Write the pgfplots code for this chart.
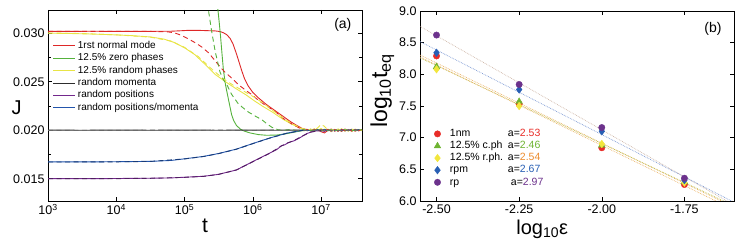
\documentclass[border=0pt]{standalone}
\usepackage{fontspec}
\setmainfont{Liberation Sans}
\usepackage{pgfplots}
\pgfplotsset{compat=1.18}
\definecolor{cred}{RGB}{222,40,40}
\definecolor{cgreen}{RGB}{85,178,60}
\definecolor{cyellow}{RGB}{232,228,70}
\definecolor{cblack}{RGB}{45,45,45}
\definecolor{cpurple}{RGB}{115,40,140}
\definecolor{cblue}{RGB}{35,85,172}
\definecolor{mred}{RGB}{232,45,40}
\definecolor{mgreen}{RGB}{110,180,50}
\definecolor{myellow}{RGB}{242,230,60}
\definecolor{mblue}{RGB}{40,95,180}
\definecolor{mpurple}{RGB}{108,50,140}
\definecolor{morange}{RGB}{236,140,45}
\definecolor{lpurple}{RGB}{205,180,165}
\definecolor{lblue}{RGB}{120,150,210}
\definecolor{lorange}{RGB}{235,175,95}
\pgfplotsset{
  common/.style={
    scale only axis,
    anchor=south west,
    tick align=inside,
    major tick length=4pt,
    minor tick length=3pt,
    every tick/.style={black, line width=0.5pt},
    axis line style={line width=0.7pt},
    tick label style={font=\fontsize{12.5}{14}\selectfont},
    /pgf/number format/assume math mode=true,
  }
}
\begin{document}
\begin{tikzpicture}[x=1pt,y=1pt]
\useasboundingbox (0,0) rectangle (750,241);
% ---------------- panel (a)
\begin{axis}[common,
  at={(48pt,40pt)}, width=314pt, height=191pt,
  xmin=3, xmax=7.6, ymin=0.0127, ymax=0.0324,
  xtick={3,4,5,6,7},
  xticklabels={10\textsuperscript{3},10\textsuperscript{4},10\textsuperscript{5},10\textsuperscript{6},10\textsuperscript{7}},
  ytick={0.015,0.020,0.025,0.030},
  yticklabels={0.015,0.020,0.025,0.030},
  minor ytick={0.0175,0.0225,0.0275},
  scaled y ticks=false,
  xlabel={t}, ylabel={J},
  xlabel style={at={(axis description cs:0.5,-0.13)}, anchor=center, font=\fontsize{21}{21}\selectfont},
  ylabel style={at={(axis description cs:-0.10,0.49)}, anchor=center, rotate=-90, font=\fontsize{20}{20}\selectfont},
  legend cell align=left,
  legend style={at={(axis description cs:0.016,0.845)}, anchor=north west, draw=none, fill=none,
    inner sep=0pt, outer sep=0pt, row sep=0pt,
    font=\fontsize{10}{12}\selectfont,
    nodes={text height=7pt, text depth=2pt, inner ysep=1.7pt, inner xsep=2pt}},
  legend image code/.code={\draw[#1] (0pt,0pt) -- (22pt,0pt);},
  every axis plot/.append style={line width=0.9pt},
]
% solid lines
\addplot[cred] coordinates {(3.0,0.03020)(3.3,0.03019)(3.6,0.03021)(3.9,0.03020)(4.2,0.03019)(4.5,0.03020)(4.8,0.03021)(4.95,0.03026)(5.05,0.03030)(5.25,0.03029)(5.45,0.03024)(5.52,0.03018)(5.57,0.03005)(5.62,0.02985)(5.67,0.02945)(5.71,0.02890)(5.76,0.02790)(5.80,0.02700)(5.84,0.02610)(5.88,0.02530)(5.93,0.02460)(6.0,0.02390)(6.08,0.02335)(6.2,0.02265)(6.3,0.02215)(6.45,0.02140)(6.55,0.02090)(6.63,0.02055)(6.72,0.02020)
(6.8,0.01995)(6.85,0.02010)(6.9,0.01988)(6.95,0.02008)(7.0,0.01985)(7.05,0.01972)(7.1,0.01998)(7.15,0.02012)(7.2,0.01990)(7.25,0.02008)(7.3,0.01988)(7.35,0.02012)(7.4,0.01995)(7.45,0.02010)(7.5,0.01990)(7.55,0.02006)(7.6,0.01996)};
\addlegendentry{1rst normal mode}
\addplot[cgreen] coordinates {(5.47,0.0340)(5.49,0.0324)(5.51,0.0310)(5.53,0.0295)(5.55,0.0278)(5.57,0.0262)(5.60,0.0247)(5.64,0.0233)(5.69,0.0216)(5.72,0.0210)(5.76,0.0205)(5.82,0.0201)(5.88,0.01990)(5.96,0.01972)(6.08,0.01955)(6.2,0.01948)(6.35,0.01950)(6.5,0.01965)(6.62,0.01982)(6.72,0.01995)
(6.8,0.01998)(6.85,0.02008)(6.9,0.01995)(6.95,0.02005)(7.0,0.01992)(7.05,0.02010)(7.1,0.01994)(7.15,0.02004)(7.2,0.01996)(7.25,0.02010)(7.3,0.01993)(7.35,0.02005)(7.4,0.01997)(7.45,0.02008)(7.5,0.01995)(7.55,0.02006)(7.6,0.01998)};
\addlegendentry{12.5\% zero phases}
\addplot[cyellow] coordinates {(3.0,0.03001)(3.3,0.02998)(3.6,0.02993)(3.9,0.02986)(4.2,0.02977)(4.5,0.02962)(4.7,0.02940)(4.85,0.02905)(5.0,0.02850)(5.15,0.02780)(5.3,0.02680)(5.45,0.02575)(5.6,0.02500)(5.74,0.02435)(5.9,0.02365)(6.03,0.02300)(6.15,0.02245)(6.28,0.02190)(6.45,0.02110)(6.55,0.02070)(6.64,0.02040)(6.72,0.02015)
(6.8,0.02005)(6.85,0.01992)(6.9,0.02015)(6.95,0.01995)(7.0,0.02018)(7.05,0.01990)(7.1,0.02008)(7.15,0.01985)(7.2,0.02010)(7.25,0.01992)(7.3,0.02015)(7.35,0.01990)(7.4,0.02008)(7.45,0.01988)(7.5,0.02012)(7.55,0.01994)(7.6,0.02008)};
\addlegendentry{12.5\% random phases}
\addplot[cblack] coordinates {(3.0,0.02001)(3.5,0.02000)(4.0,0.02001)(4.5,0.02000)(5.0,0.02001)(5.5,0.02000)(6.0,0.02001)(6.4,0.02000)(6.7,0.02002)
(6.8,0.01997)(6.85,0.02004)(6.9,0.01996)(6.95,0.02005)(7.0,0.01995)(7.05,0.02003)(7.1,0.01997)(7.15,0.02004)(7.2,0.01996)(7.25,0.02003)(7.3,0.01997)(7.35,0.02004)(7.4,0.01996)(7.45,0.02003)(7.5,0.01998)(7.55,0.02004)(7.6,0.01998)};
\addlegendentry{random momenta}
\addplot[cpurple] coordinates {(3.0,0.01500)(3.5,0.01500)(4.0,0.01502)(4.5,0.01505)(4.8,0.01508)(5.0,0.01515)(5.28,0.01525)(5.5,0.01545)(5.76,0.01590)(6.01,0.01680)(6.25,0.01765)(6.35,0.01800)(6.42,0.01840)(6.47,0.01850)(6.52,0.01872)(6.6,0.01890)(6.68,0.01918)(6.72,0.01935)(6.79,0.01965)(6.85,0.01980)(6.92,0.01992)(7.0,0.01996)
(7.05,0.01988)(7.1,0.02006)(7.15,0.01990)(7.2,0.02005)(7.25,0.01992)(7.3,0.02008)(7.35,0.01994)(7.4,0.02006)(7.45,0.01993)(7.5,0.02007)(7.55,0.01995)(7.6,0.02004)};
\addlegendentry{random positions}
\addplot[cblue] coordinates {(3.0,0.01673)(3.5,0.01673)(4.0,0.01675)(4.5,0.01679)(4.8,0.01688)(5.0,0.01705)(5.28,0.01730)(5.5,0.01760)(5.76,0.01805)(6.01,0.01865)(6.25,0.01920)(6.5,0.01970)(6.65,0.01990)(6.74,0.02000)
(6.8,0.01996)(6.85,0.02006)(6.9,0.01994)(6.95,0.02005)(7.0,0.01995)(7.05,0.02007)(7.1,0.01996)(7.15,0.02004)(7.2,0.01995)(7.25,0.02006)(7.3,0.01996)(7.35,0.02004)(7.4,0.01995)(7.45,0.02005)(7.5,0.01996)(7.55,0.02004)(7.6,0.01997)};
\addlegendentry{random positions/momenta}
% dashed lines
\addplot[cred, dash pattern=on 5pt off 3.5pt, forget plot] coordinates {(3.0,0.03021)(3.5,0.03019)(4.0,0.03020)(4.5,0.03019)(4.75,0.03015)(4.85,0.03005)(4.95,0.02980)(5.05,0.02945)(5.15,0.02905)(5.25,0.02860)(5.35,0.02800)(5.45,0.02715)(5.52,0.02655)(5.59,0.02600)(5.68,0.02545)(5.79,0.02470)(5.9,0.02410)(5.98,0.02370)(6.08,0.02310)(6.18,0.02260)(6.27,0.02220)(6.35,0.02180)(6.45,0.02120)(6.52,0.02090)(6.58,0.02060)(6.64,0.02040)(6.7,0.02015)
(6.8,0.02008)(6.85,0.01994)(6.9,0.02010)(6.95,0.01990)(7.0,0.02006)(7.05,0.01992)(7.1,0.02010)(7.15,0.01994)(7.2,0.02006)(7.25,0.01990)(7.3,0.02008)(7.35,0.01995)(7.4,0.02010)(7.45,0.01992)(7.5,0.02006)(7.55,0.01995)(7.6,0.02004)};
\addplot[cyellow, dash pattern=on 5pt off 3.5pt, forget plot] coordinates {(3.0,0.03003)(3.5,0.02997)(4.0,0.02984)(4.5,0.02960)(4.8,0.02920)(5.0,0.02855)(5.2,0.02760)(5.4,0.02630)(5.55,0.02540)(5.7,0.02470)(5.85,0.02410)(6.0,0.02350)(6.15,0.02280)(6.3,0.02200)(6.45,0.02125)(6.58,0.02065)(6.7,0.02025)
(6.8,0.02000)(6.85,0.02012)(6.9,0.01995)(6.95,0.02025)(7.0,0.02060)(7.05,0.02040)(7.1,0.02000)(7.15,0.02010)(7.2,0.01992)(7.25,0.02012)(7.3,0.01995)(7.35,0.02010)(7.4,0.01990)(7.45,0.02012)(7.5,0.01995)(7.55,0.02010)(7.6,0.01996)};
\addplot[cgreen, dash pattern=on 5pt off 3.5pt, forget plot] coordinates {(5.33,0.0340)(5.35,0.0324)(5.38,0.0310)(5.4,0.0301)(5.45,0.0281)(5.52,0.0260)(5.57,0.0252)(5.62,0.0247)(5.69,0.0237)(5.79,0.0227)(5.93,0.0219)(6.05,0.02140)(6.13,0.0211)(6.2,0.0207)(6.28,0.0203)(6.37,0.02005)(6.45,0.01998)(6.55,0.02008)(6.65,0.01996)(6.75,0.02005)
(6.85,0.01995)(6.95,0.02006)(7.05,0.01994)(7.15,0.02006)(7.25,0.01995)(7.35,0.02005)(7.45,0.01996)(7.6,0.02004)};
\addplot[black!60, dash pattern=on 5pt off 3.5pt, forget plot] coordinates {(3.0,0.01998)(3.5,0.02000)(4.0,0.01998)(4.5,0.02001)(5.0,0.01997)(5.5,0.02001)(6.0,0.01997)(6.4,0.02002)(6.7,0.01998)(7.0,0.02003)(7.3,0.01997)(7.6,0.02002)};
\addplot[cpurple!70!black, dash pattern=on 5pt off 3.5pt, forget plot] coordinates {(3.0,0.01500)(4.0,0.01501)(4.5,0.01504)(5.0,0.01514)(5.28,0.01524)(5.5,0.01545)(5.76,0.01590)(6.01,0.01678)(6.25,0.01762)(6.4,0.01830)(6.5,0.01866)(6.6,0.01892)(6.72,0.01938)(6.85,0.01982)(7.0,0.01996)};
\addplot[cblue!70!black, dash pattern=on 5pt off 3.5pt, forget plot] coordinates {(3.0,0.01672)(4.0,0.01674)(4.5,0.01678)(5.0,0.01704)(5.28,0.01729)(5.5,0.01759)(5.76,0.01804)(6.01,0.01864)(6.25,0.01919)(6.5,0.01969)(6.74,0.02000)};
\node[font=\fontsize{14}{14}\selectfont] at (axis description cs:0.939,0.921) {(a)};
\end{axis}
% ---------------- panel (b)
\begin{axis}[common,
  at={(420pt,40pt)}, width=314pt, height=190pt,
  xmin=-2.55, xmax=-1.6, ymin=6, ymax=9,
  xtick={-2.5,-2.25,-2,-1.75},
  xticklabels={-2.50,-2.25,-2.00,-1.75},
  ytick={6,6.5,7,7.5,8,8.5,9},
  yticklabels={6.0,6.5,7.0,7.5,8.0,8.5,9.0},
  xlabel={log\textsubscript{10}ε},
  ylabel={log\textsubscript{10}t\textsubscript{eq}},
  xlabel style={at={(axis description cs:0.389,-0.15)}, anchor=center, font=\fontsize{20}{20}\selectfont},
  ylabel style={at={(axis description cs:-0.12,0.58)}, anchor=center, font=\fontsize{23}{23}\selectfont},
  legend cell align=left,
  legend style={at={(axis description cs:0.035,0.385)}, anchor=north west, draw=none, fill=none,
    inner sep=0pt, outer sep=0pt, row sep=0pt,
    font=\fontsize{10.5}{12}\selectfont,
    nodes={text height=7.5pt, text depth=2pt, inner ysep=1.3pt, inner xsep=2pt}},
  legend image code/.code={\path[draw=none, fill=none] (0pt,0pt) -- (17pt,0pt); \draw[#1] plot coordinates {(6.5pt,0pt)};},
]
% fit lines
\addplot[lpurple, densely dotted, line width=0.7pt, forget plot] coordinates {(-2.6,8.906)(-1.55,5.787)};
\addplot[lblue, densely dotted, line width=0.7pt, forget plot] coordinates {(-2.6,8.651)(-1.55,5.847)};
\addplot[lorange, densely dotted, line width=0.7pt, forget plot] coordinates {(-2.6,8.432)(-1.55,5.775)};
\addplot[lorange!80!green, densely dotted, line width=0.7pt, forget plot] coordinates {(-2.6,8.3835)(-1.55,5.8005)};
\addplot[lorange, densely dotted, line width=0.7pt, forget plot] coordinates {(-2.6,8.4015)(-1.55,5.7345)};
% data
\addplot[only marks, mark=*, mark size=3.2pt, mred, mark options={draw=mred, fill=mred}] coordinates {(-2.5,8.29)(-2.25,7.53)(-2.0,6.84)(-1.75,6.26)};
\addlegendentry{\makebox[58pt][l]{1nm}a=\textcolor{mred}{2.53}}
\addplot[only marks, mark=triangle*, mark size=3.8pt, mgreen, mark options={draw=mgreen, fill=mgreen}] coordinates {(-2.5,8.12)(-2.25,7.57)(-2.0,6.88)(-1.75,6.30)};
\addlegendentry{\makebox[58pt][l]{12.5\% c.ph}a=\textcolor{mgreen}{2.46}}
\addplot[only marks, mark=diamond*, mark size=3.8pt, myellow, mark options={draw=myellow, fill=myellow}] coordinates {(-2.5,8.08)(-2.25,7.50)(-2.0,6.90)(-1.75,6.29)};
\addlegendentry{\makebox[58pt][l]{12.5\% r.ph.}a=\textcolor{morange}{2.54}}
\addplot[only marks, mark=diamond*, mark size=3.8pt, mblue, mark options={draw=mblue, fill=mblue}] coordinates {(-2.5,8.34)(-2.25,7.76)(-2.0,7.10)(-1.75,6.33)};
\addlegendentry{\makebox[58pt][l]{rpm}a=\textcolor{mblue}{2.67}}
\addplot[only marks, mark=*, mark size=3.2pt, mpurple, mark options={draw=mpurple, fill=mpurple}] coordinates {(-2.5,8.62)(-2.25,7.84)(-2.0,7.16)(-1.75,6.36)};
\addlegendentry{\makebox[61pt][l]{rp}a=\textcolor{mpurple}{2.97}}
\node[font=\fontsize{14}{14}\selectfont] at (axis description cs:0.933,0.905) {(b)};
\end{axis}
\end{tikzpicture}
\end{document}
